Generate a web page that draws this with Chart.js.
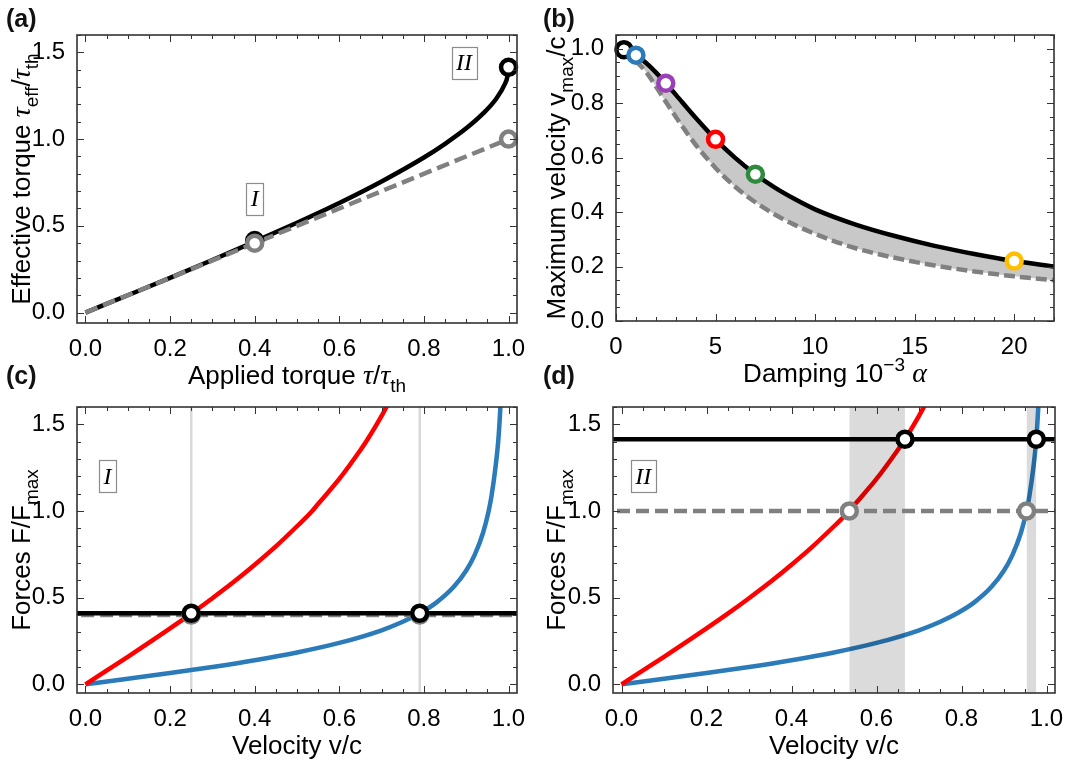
<!DOCTYPE html>
<html>
<head>
<meta charset="utf-8">
<script src="https://cdn.jsdelivr.net/npm/chart.js@4.4.1/dist/chart.umd.min.js"></script>
<style>
  body { margin: 0; width: 1070px; height: 764px; background: #fff; position: relative; overflow: hidden; }
  .panel { position: absolute; width: 535px; }
  .top { height: 400px; }
  .bottom { height: 382px; }
  .tag { position: absolute; font: bold 25px "Liberation Sans", Arial, sans-serif; line-height: 25px; color: #111; }
</style>
</head>
<body>
<div class="panel top" style="left:0;top:0"><canvas id="chartA"></canvas></div>
<div class="panel top" style="left:535px;top:0"><canvas id="chartB"></canvas></div>
<div class="panel bottom" style="left:0;top:382px"><canvas id="chartC"></canvas></div>
<div class="panel bottom" style="left:535px;top:382px"><canvas id="chartD"></canvas></div>
<div class="tag" style="left:6px;top:6px">(a)</div>
<div class="tag" style="left:543px;top:6px">(b)</div>
<div class="tag" style="left:6px;top:363px">(c)</div>
<div class="tag" style="left:543px;top:363px">(d)</div>
<script>
// (a) effective torque against applied torque
const appliedTorque   = [0, 0.1, 0.2, 0.3, 0.4, 0.5, 0.6, 0.7, 0.8, 0.85, 0.9, 0.94, 0.97, 0.99, 0.998, 1.0];
const effectiveTorque = [0, 0.1, 0.2, 0.303, 0.409, 0.518, 0.632, 0.756, 0.894, 0.973, 1.062, 1.148, 1.23, 1.311, 1.369, 1.414];
const linearTorque    = [0, 1];

// (b) maximum velocity against damping
const dampingSolid  = [0.4, 1, 1.5, 2, 2.5, 3, 4, 5, 6, 7, 8, 9, 10, 12, 14, 16, 18, 20, 22];
const vmaxSolid     = [0.996, 0.976, 0.948, 0.913, 0.873, 0.831, 0.746, 0.667, 0.598, 0.539, 0.489, 0.447, 0.41, 0.355, 0.312, 0.276, 0.246, 0.22, 0.2];
const dampingDashed = [1, 1.5, 2, 2.5, 3, 3.5, 4, 5, 6, 7, 8, 9, 10, 12, 14, 16, 18, 20, 22];
const vmaxDashed    = [0.955, 0.915, 0.862, 0.805, 0.75, 0.697, 0.647, 0.562, 0.492, 0.436, 0.39, 0.352, 0.32, 0.268, 0.232, 0.204, 0.182, 0.164, 0.15];
const markerDamping = [0.4, 1, 2.5, 5, 7, 20];
const markerVmax    = [0.996, 0.976, 0.873, 0.667, 0.539, 0.22];

// (c), (d) forces against velocity
const redVelocity  = [0, 0.1, 0.2, 0.25, 0.3, 0.35, 0.4, 0.45, 0.5, 0.536, 0.55, 0.6, 0.65, 0.667, 0.7, 0.72];
const redForce     = [0, 0.159, 0.323, 0.408, 0.497, 0.59, 0.69, 0.796, 0.912, 1.0, 1.041, 1.185, 1.352, 1.414, 1.549, 1.639];
const blueVelocity = [0, 0.1, 0.2, 0.3, 0.4, 0.5, 0.6, 0.7, 0.75, 0.79, 0.83, 0.87, 0.9, 0.92, 0.94, 0.953, 0.96, 0.97, 0.976, 0.98, 0.985];
const blueForce    = [0, 0.032, 0.065, 0.1, 0.139, 0.184, 0.239, 0.312, 0.361, 0.41, 0.473, 0.561, 0.657, 0.747, 0.876, 1.0, 1.09, 1.269, 1.414, 1.566, 1.815];
const driveLow  = [0.4, 0.41];     // dashed, solid level in (c)
const driveHigh = [1.0, 1.414];    // dashed, solid level in (d)
const crossLow       = [0.25, 0.79];
const crossHigh      = [0.536, 0.953];
const crossHighSolid = [0.667, 0.976];

// tick labels
const unitTickLabels    = ['0.0', '0.2', '0.4', '0.6', '0.8', '1.0'];
const torqueTickLabels  = ['0.0', '0.5', '1.0', '1.5'];
const dampingTickLabels = ['0', '5', '10', '15', '20'];
const vmaxTickLabels    = ['0.0', '0.2', '0.4', '0.6', '0.8', '1.0'];

const SANS = '"Liberation Sans", Arial, sans-serif';
const SERIF = '"Liberation Serif", "Times New Roman", serif';
const RED = '#ff0000', BLUE = '#2b7bba', GRAY = '#808080';
const markerColors = ['#000000', BLUE, '#9a3fb8', RED, '#2e8a3c', '#ffbf00'];
const LW = 4.5;

const pts = (xs, ys) => xs.map((x, i) => ({ x, y: ys[i] }));

function curve(xs, ys, color, extra) {
  return Object.assign({
    data: pts(xs, ys), showLine: true, borderColor: color, borderWidth: LW,
    pointRadius: 0, cubicInterpolationMode: 'monotone', fill: false
  }, extra || {});
}

function hline(y, color, dashed, order) {
  return {
    data: [{ x: -0.1, y }, { x: 1.1, y }], showLine: true, borderColor: color, borderWidth: LW,
    borderDash: dashed ? [13, 6] : [], pointRadius: 0, tension: 0, order
  };
}

function rings(xs, ys, color, order) {
  return {
    data: pts(xs, ys), showLine: false, pointRadius: 7.5, pointHoverRadius: 7.5,
    pointBackgroundColor: '#ffffff', pointBorderColor: color, pointBorderWidth: 4.5,
    clip: false, order
  };
}

// frame with inward ticks on all four sides
function framePlugin(xMinor, yMinor) {
  return {
    id: 'frame',
    afterDatasetsDraw(chart) {
      const { ctx, chartArea: a, scales: { x, y } } = chart;
      const steps = (s, step) => {
        const out = [];
        for (let i = Math.ceil(s.min / step - 1e-9); i * step <= s.max + 1e-9; i++) out.push(i * step);
        return out;
      };
      const major = (v, s) => s.ticks.some(t => Math.abs(t.value - v) < 1e-6);
      ctx.save();
      ctx.strokeStyle = '#333';
      ctx.lineWidth = 1;
      ctx.beginPath();
      steps(x, xMinor).forEach(v => {
        const p = Math.round(x.getPixelForValue(v)) + 0.5;
        const len = major(v, x) ? 7 : 4;
        ctx.moveTo(p, a.bottom); ctx.lineTo(p, a.bottom - len);
        ctx.moveTo(p, a.top); ctx.lineTo(p, a.top + len);
      });
      steps(y, yMinor).forEach(v => {
        const p = Math.round(y.getPixelForValue(v)) + 0.5;
        const len = major(v, y) ? 7 : 4;
        ctx.moveTo(a.left, p); ctx.lineTo(a.left + len, p);
        ctx.moveTo(a.right, p); ctx.lineTo(a.right - len, p);
      });
      ctx.stroke();
      ctx.lineWidth = 1.6;
      ctx.strokeRect(a.left, a.top, a.right - a.left, a.bottom - a.top);
      ctx.restore();
    }
  };
}

// axis titles with sub/superscripts
function drawRich(ctx, segs, size) {
  const fonts = segs.map(([, k]) =>
    k === 'g' ? `italic ${size + 2}px ${SERIF}` :
    (k === 'sub' || k === 'sup') ? `${Math.round(size * 0.72)}px ${SANS}` : `${size}px ${SANS}`);
  const widths = segs.map(([t], i) => { ctx.font = fonts[i]; return ctx.measureText(t).width; });
  let x = -widths.reduce((s, w) => s + w, 0) / 2;
  const base = size * 0.36;
  segs.forEach(([t, k], i) => {
    ctx.font = fonts[i];
    const dy = k === 'sub' ? size * 0.3 : k === 'sup' ? -size * 0.4 : 0;
    ctx.fillText(t, x, base + dy);
    x += widths[i];
  });
}

function titlePlugin(xSegs, ySegs, yTitleX) {
  return {
    id: 'richTitles',
    afterDraw(chart) {
      const { ctx, chartArea: a } = chart;
      ctx.save();
      ctx.fillStyle = '#000';
      ctx.translate((a.left + a.right) / 2, a.bottom + 51.5);
      drawRich(ctx, xSegs, 26);
      ctx.restore();
      ctx.save();
      ctx.fillStyle = '#000';
      ctx.translate(yTitleX, (a.top + a.bottom) / 2);
      ctx.rotate(-Math.PI / 2);
      drawRich(ctx, ySegs, 26);
      ctx.restore();
    }
  };
}

// boxed roman-numeral labels, placed in data coordinates
function boxPlugin(boxes) {
  return {
    id: 'boxLabels',
    afterDraw(chart) {
      const { ctx, scales: { x, y } } = chart;
      ctx.save();
      ctx.font = `italic 24px ${SERIF}`;
      ctx.textAlign = 'center';
      ctx.textBaseline = 'middle';
      boxes.forEach(b => {
        const cx = x.getPixelForValue(b.x), cy = y.getPixelForValue(b.y);
        const w = ctx.measureText(b.text).width + 9, h = 32;
        ctx.fillStyle = '#fff';
        ctx.fillRect(cx - w / 2, cy - h / 2, w, h);
        ctx.strokeStyle = '#8c8c8c';
        ctx.lineWidth = 1.2;
        ctx.strokeRect(Math.round(cx - w / 2) + 0.5, Math.round(cy - h / 2) + 0.5, Math.round(w), h);
        ctx.fillStyle = '#000';
        ctx.fillText(b.text, cx, cy + 1);
      });
      ctx.restore();
    }
  };
}

function axis(min, max, labels, size) {
  return {
    type: 'linear', min, max,
    grid: { display: false }, border: { display: false },
    afterBuildTicks: s => { s.ticks = labels.map(l => ({ value: parseFloat(l) })); },
    afterFit: s => { if (s.isHorizontal()) s.height = size; else s.width = size; },
    ticks: {
      padding: 4, color: '#000', font: { family: SANS, size: 24 },
      callback: (v, i) => labels[i]
    }
  };
}

function panel(id, p) {
  return new Chart(document.getElementById(id), {
    type: 'scatter',
    data: { datasets: p.datasets },
    options: {
      animation: false, responsive: true, maintainAspectRatio: false,
      layout: { padding: { left: 0, top: p.top, right: p.right, bottom: 0 } },
      plugins: { legend: { display: false }, tooltip: { enabled: false } },
      events: [],
      scales: {
        x: axis(p.x[0], p.x[1], p.xLabels, p.xHeight),
        y: axis(p.y[0], p.y[1], p.yLabels, p.left)
      }
    },
    plugins: [framePlugin(p.xMinor, p.yMinor), titlePlugin(p.xTitle, p.yTitle, 21), boxPlugin(p.boxes)]
  });
}

Chart.defaults.font.family = SANS;

panel('chartA', {
  top: 35, right: 18, left: 77, xHeight: 77,
  x: [-0.02, 1.02], y: [-0.06, 1.6], xLabels: unitTickLabels, yLabels: torqueTickLabels,
  xMinor: 0.05, yMinor: 0.1,
  xTitle: [['Applied torque ', 'n'], ['τ', 'g'], ['/', 'n'], ['τ', 'g'], ['th', 'sub']],
  yTitle: [['Effective torque ', 'n'], ['τ', 'g'], ['eff', 'sub'], ['/', 'n'], ['τ', 'g'], ['th', 'sub']],
  boxes: [{ text: 'I', x: 0.4, y: 0.655 }, { text: 'II', x: 0.895, y: 1.44 }],
  datasets: [
    curve(appliedTorque, effectiveTorque, '#000', { order: 4 }),
    curve(linearTorque, linearTorque, GRAY, { borderDash: [13, 6], tension: 0, cubicInterpolationMode: 'default', order: 3 }),
    rings([0.4, 1.0], [0.415, effectiveTorque[effectiveTorque.length - 1]], '#000', 2),
    rings([0.4, 1.0], [0.4, 1.0], GRAY, 1)
  ]
});

panel('chartB', {
  top: 35, right: 16, left: 81, xHeight: 79,
  x: [0, 22], y: [0, 1.05], xLabels: dampingTickLabels, yLabels: vmaxTickLabels,
  xMinor: 1, yMinor: 0.05,
  xTitle: [['Damping 10', 'n'], ['−3', 'sup'], [' ', 'n'], ['α', 'g']],
  yTitle: [['Maximum velocity v', 'n'], ['max', 'sub'], ['/c', 'n']],
  boxes: [],
  datasets: [
    curve(dampingSolid, vmaxSolid, '#000', { fill: { target: 1 }, backgroundColor: '#c8c8c8', order: 3 }),
    curve(dampingDashed, vmaxDashed, GRAY, { borderDash: [11, 5], order: 2 }),
    {
      data: pts(markerDamping, markerVmax), showLine: false, pointRadius: 7.5,
      pointBackgroundColor: '#ffffff', pointBorderColor: markerColors, pointBorderWidth: 4.5,
      clip: false, order: 1
    }
  ]
});

panel('chartC', {
  top: 25, right: 18, left: 77, xHeight: 71,
  x: [-0.02, 1.02], y: [-0.05, 1.6], xLabels: unitTickLabels, yLabels: torqueTickLabels,
  xMinor: 0.05, yMinor: 0.1,
  xTitle: [['Velocity v/c', 'n']],
  yTitle: [['Forces F/F', 'n'], ['max', 'sub']],
  boxes: [{ text: 'I', x: 0.052, y: 1.2 }],
  datasets: [
    { data: [{ x: crossLow[0], y: -0.2 }, { x: crossLow[0], y: 1.8 }], showLine: true, borderColor: '#d9d9d9', borderWidth: 2.5, pointRadius: 0, order: 10 },
    { data: [{ x: crossLow[1], y: -0.2 }, { x: crossLow[1], y: 1.8 }], showLine: true, borderColor: '#d9d9d9', borderWidth: 2.5, pointRadius: 0, order: 10 },
    curve(redVelocity, redForce, RED, { order: 6 }),
    curve(blueVelocity, blueForce, BLUE, { order: 6 }),
    hline(driveLow[0], GRAY, true, 5),
    hline(driveLow[1], '#000', false, 4),
    rings(crossLow, [driveLow[0], driveLow[0]], GRAY, 3),
    rings(crossLow, [driveLow[1], driveLow[1]], '#000', 2)
  ]
});

panel('chartD', {
  top: 25, right: 15, left: 78, xHeight: 71,
  x: [-0.02, 1.02], y: [-0.05, 1.6], xLabels: unitTickLabels, yLabels: torqueTickLabels,
  xMinor: 0.05, yMinor: 0.1,
  xTitle: [['Velocity v/c', 'n']],
  yTitle: [['Forces F/F', 'n'], ['max', 'sub']],
  boxes: [{ text: 'II', x: 0.051, y: 1.2 }],
  datasets: [
    curve(redVelocity, redForce, RED, { order: 7 }),
    curve(blueVelocity, blueForce, BLUE, { order: 7 }),
    // shaded velocity windows between the dashed and solid drive levels
    { data: [{ x: crossHigh[0], y: 1.8 }, { x: crossHighSolid[0], y: 1.8 }], showLine: true, borderWidth: 0,
      pointRadius: 0, fill: { value: -0.2 }, backgroundColor: 'rgba(0,0,0,0.14)', order: 6 },
    { data: [{ x: crossHigh[1], y: 1.8 }, { x: crossHighSolid[1], y: 1.8 }], showLine: true, borderWidth: 0,
      pointRadius: 0, fill: { value: -0.2 }, backgroundColor: 'rgba(0,0,0,0.14)', order: 6 },
    hline(driveHigh[0], GRAY, true, 5),
    hline(driveHigh[1], '#000', false, 4),
    rings(crossHigh, [driveHigh[0], driveHigh[0]], GRAY, 3),
    rings(crossHighSolid, [driveHigh[1], driveHigh[1]], '#000', 2)
  ]
});
</script>
</body>
</html>
